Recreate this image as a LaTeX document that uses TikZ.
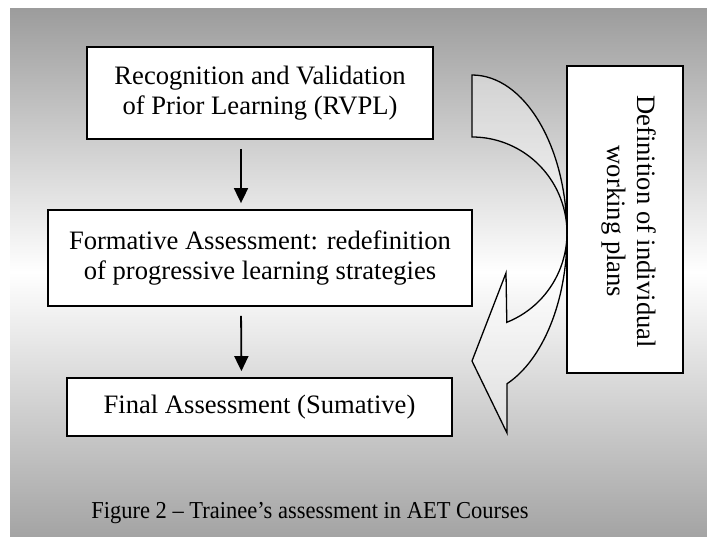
\documentclass[tikz,border=0pt]{standalone}
\usepackage{fontspec}
\setmainfont{Liberation Serif}
\usetikzlibrary{arrows.meta}
\definecolor{bggray}{HTML}{9C9C9C}
\definecolor{bggraybot}{HTML}{A4A4A4}
\tikzset{
  boxfont/.style={font=\fontsize{26.6}{30.5}\selectfont},
  stagebox/.style={draw=black, line width=1.8pt, fill=white, align=center, inner sep=0pt, boxfont},
  conn/.style={line width=1.8pt, -{Triangle[length=15pt,width=14pt]}},
  curvedarrow/.style={draw=black, line width=1.3pt, fill=white, fill opacity=0.4, line join=miter},
}
\begin{document}
\begin{tikzpicture}[x=1pt,y=-1pt]
\useasboundingbox (0,0) rectangle (707,536);
\fill[white] (0,0) rectangle (707,536);
\shade[top color=bggray, bottom color=bggraybot, middle color=white] (10,8) rectangle (707,536);

\node[stagebox, minimum width=346pt, minimum height=92pt] (rvpl) at (260,93)
  {Recognition and Validation\\of Prior Learning (RVPL)};
\node[stagebox, minimum width=424pt, minimum height=96pt] (form) at (260,258)
  {Formative Assessment: redefinition\\of progressive learning strategies};
\node[stagebox, minimum width=385pt, minimum height=58pt] (final) at (259.5,407)
  {Final Assessment (Sumative)};
\node[stagebox, minimum width=116pt, minimum height=307pt] (plans) at (625,219.5) {};
\node[boxfont, align=center, rotate=-90, inner sep=0pt] (planstext) at ([xshift=4pt,yshift=-2pt]plans.center)
  {Definition of individual\\working plans};

\draw[conn, shorten <=9pt, shorten >=6pt] ([xshift=-19pt]rvpl.south) -- ([xshift=-19pt]form.north);
\draw[conn, shorten <=9pt, shorten >=6pt] ([xshift=-19pt]form.south) -- ([xshift=-18pt]final.north);

\coordinate (tailtop) at (472,75);
\path[curvedarrow] (tailtop)
  arc[start angle=-90, end angle=68.4, x radius=95, y radius=160]
  -- (507,433) -- (472,361) -- (506,273) -- (506.8,322.3)
  arc[start angle=68.5, end angle=-90, x radius=95, y radius=96]
  -- cycle;

\node[font=\fontsize{22.5}{26}\selectfont, yscale=1.08, transform shape] (caption) at (310,513) {Figure 2 -- Trainee’s assessment in AET Courses};
\end{tikzpicture}
\end{document}
